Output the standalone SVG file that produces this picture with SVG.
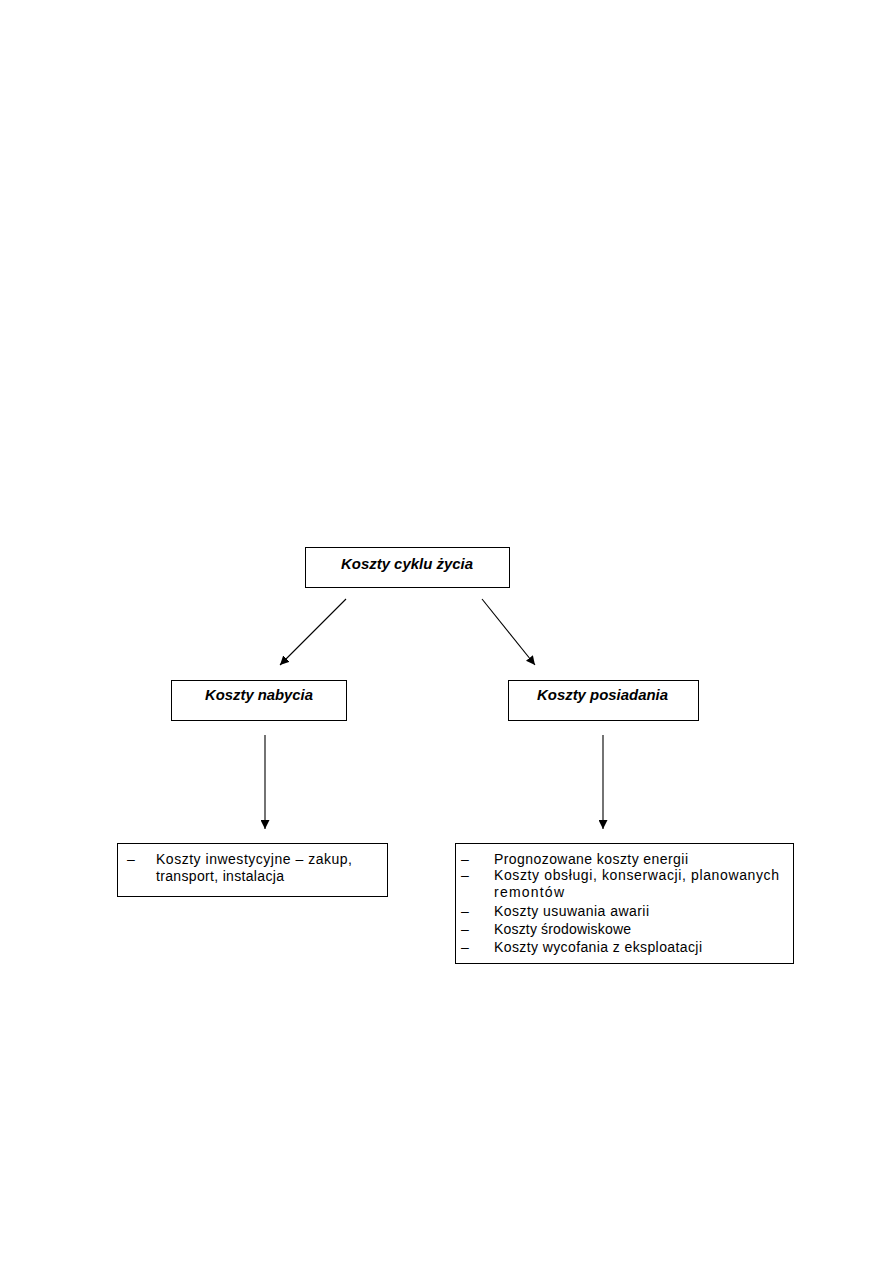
<svg xmlns="http://www.w3.org/2000/svg" width="893" height="1263" viewBox="0 0 893 1263">
<style>
.box{fill:#fff;stroke:#000;stroke-width:1}
.h{font-family:"Liberation Sans",Arial,sans-serif;font-size:15px;font-weight:bold;font-style:italic;fill:#000}
.t{font-family:"Liberation Sans",Arial,sans-serif;font-size:14px;fill:#000}
.c{stroke:#000;stroke-width:1.1;fill:none;marker-end:url(#ah)}
</style>
<defs>
<marker id="ah" viewBox="0 0 10 10" refX="10" refY="5" markerWidth="9" markerHeight="9" markerUnits="userSpaceOnUse" orient="auto">
<path d="M0,0 L10,5 L0,10 z" fill="#000"/>
</marker>
</defs>
<rect width="893" height="1263" fill="#fff"/>
<g id="connectors">
<line class="c" x1="346" y1="599" x2="280" y2="665"/>
<line class="c" x1="482" y1="599" x2="535" y2="665"/>
<line class="c" x1="265" y1="735" x2="265" y2="829"/>
<line class="c" x1="603" y1="735" x2="603" y2="829"/>
</g>
<g id="root">
<rect class="box" x="305.5" y="547.5" width="204" height="40"/>
<text class="h" x="341" y="569" textLength="132" lengthAdjust="spacingAndGlyphs">Koszty cyklu życia</text>
</g>
<g id="nabycia">
<rect class="box" x="171.5" y="680.5" width="175" height="40"/>
<text class="h" x="205" y="700" textLength="108" lengthAdjust="spacingAndGlyphs">Koszty nabycia</text>
</g>
<g id="posiadania">
<rect class="box" x="508.5" y="680.5" width="190" height="40"/>
<text class="h" x="537" y="700" textLength="131" lengthAdjust="spacingAndGlyphs">Koszty posiadania</text>
</g>
<g id="nabycia-list">
<rect class="box" x="117.5" y="843.5" width="270" height="53"/>
<text class="t" x="127" y="864">–</text>
<text class="t" x="156" y="864" textLength="196" lengthAdjust="spacing">Koszty inwestycyjne – zakup,</text>
<text class="t" x="156" y="881" textLength="128" lengthAdjust="spacing">transport, instalacja</text>
</g>
<g id="posiadania-list">
<rect class="box" x="455.5" y="843.5" width="338" height="120"/>
<text class="t" x="461" y="864">–</text>
<text class="t" x="494" y="864" textLength="194" lengthAdjust="spacing">Prognozowane koszty energii</text>
<text class="t" x="461" y="880">–</text>
<text class="t" x="494" y="880" textLength="285" lengthAdjust="spacing">Koszty obsługi, konserwacji, planowanych</text>
<text class="t" x="494" y="897" textLength="70" lengthAdjust="spacing">remontów</text>
<text class="t" x="461" y="916">–</text>
<text class="t" x="494" y="916" textLength="155" lengthAdjust="spacing">Koszty usuwania awarii</text>
<text class="t" x="461" y="934">–</text>
<text class="t" x="494" y="934" textLength="137" lengthAdjust="spacing">Koszty środowiskowe</text>
<text class="t" x="461" y="952">–</text>
<text class="t" x="494" y="952" textLength="208" lengthAdjust="spacing">Koszty wycofania z eksploatacji</text>
</g>
</svg>
